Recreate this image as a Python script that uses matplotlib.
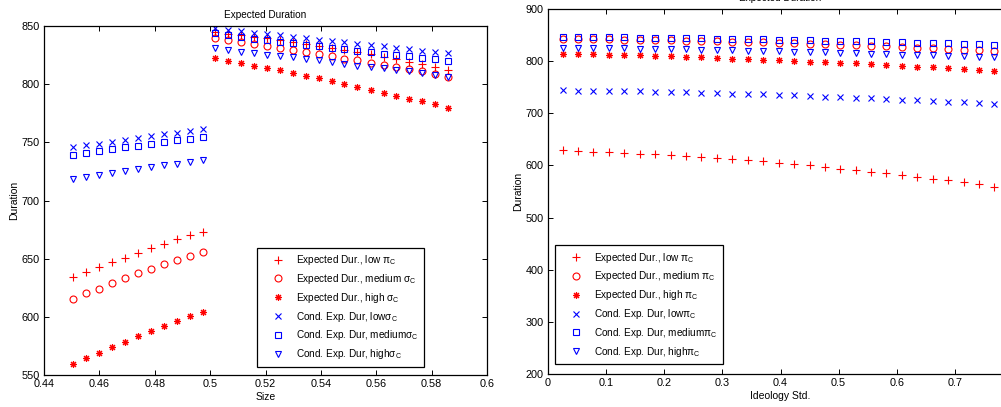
import matplotlib
matplotlib.use("Agg")
import matplotlib.pyplot as plt

plt.rcParams['font.family'] = ['Liberation Sans', 'DejaVu Sans']
plt.rcParams['mathtext.fontset'] = 'custom'
plt.rcParams['mathtext.rm'] = 'Liberation Sans'
plt.rcParams['mathtext.it'] = 'Liberation Sans:italic'
plt.rcParams['mathtext.sf'] = 'Liberation Sans'

# ---------------------------------------------------------------
# Left panel: duration against size (two regimes)
# ---------------------------------------------------------------
size_lo = [0.4506, 0.4553, 0.4599, 0.4646, 0.4693, 0.4740, 0.4786, 0.4833,
           0.4880, 0.4926, 0.4973]
size_hi = [0.5018, 0.5065, 0.5112, 0.5159, 0.5205, 0.5252, 0.5299, 0.5345,
           0.5392, 0.5439, 0.5485, 0.5532, 0.5579, 0.5626, 0.5672, 0.5719,
           0.5766, 0.5812, 0.5859]

exp_low_lo = [634.5, 638.5, 642.8, 646.9, 650.8, 655.1, 659.2, 662.9, 666.6, 670.1, 673.2]
exp_med_lo = [615.3, 620.2, 624.2, 628.8, 633.1, 637.4, 641.1, 645.4, 648.9, 652.6, 656.0]
exp_high_lo = [559.2, 564.3, 569.2, 574.1, 578.6, 583.3, 587.8, 591.9, 596.4, 600.4, 604.4]
cond_low_lo = [745.7, 747.4, 748.8, 750.5, 752.2, 753.7, 755.4, 756.9, 758.3, 759.7, 761.2]
cond_med_lo = [739.1, 740.8, 742.5, 744.3, 745.7, 747.1, 748.8, 750.3, 751.7, 753.1, 754.6]
cond_high_lo = [718.7, 720.5, 721.9, 723.6, 725.4, 727.1, 728.5, 730.2, 731.6, 733.1, 734.8]

exp_low_hi = [844.5, 843.3, 842.0, 840.7, 839.3, 837.9, 836.4, 834.8, 833.1, 831.4,
              829.6, 827.7, 825.7, 823.6, 821.4, 819.2, 817.0, 814.7, 812.4]
exp_med_hi = [840.0, 838.0, 836.5, 834.5, 833.0, 831.5, 829.5, 827.5, 826.0, 824.0,
              822.0, 820.5, 818.5, 816.5, 815.0, 813.0, 811.0, 809.0, 806.5]
exp_high_hi = [822.2, 820.0, 818.0, 816.0, 814.0, 811.8, 809.5, 807.2, 805.0, 802.7,
               800.4, 797.8, 795.2, 792.6, 790.0, 787.5, 785.2, 782.6, 779.7]
cond_low_hi = [848.0, 846.8, 845.6, 844.4, 843.2, 842.0, 840.8, 839.6, 838.4, 837.2,
               836.0, 834.8, 833.6, 832.4, 831.2, 830.0, 828.8, 827.6, 826.4]
cond_med_hi = [843.7, 842.0, 840.5, 839.2, 837.8, 836.5, 835.2, 833.8, 832.5, 831.2,
               830.0, 828.7, 827.5, 826.3, 825.1, 823.9, 822.7, 821.5, 820.3]
cond_high_hi = [831.0, 829.5, 828.0, 826.5, 825.5, 824.5, 823.0, 821.5, 820.5, 819.0,
                817.5, 816.0, 815.0, 813.5, 812.5, 811.0, 809.5, 808.0, 806.5]

# ---------------------------------------------------------------
# Right panel: duration against ideology std.
# ---------------------------------------------------------------
ideo = [0.025, 0.052, 0.078, 0.105, 0.131, 0.158, 0.184, 0.211, 0.238, 0.264,
        0.291, 0.317, 0.344, 0.370, 0.397, 0.423, 0.450, 0.476, 0.503, 0.529,
        0.556, 0.582, 0.609, 0.635, 0.662, 0.688, 0.715, 0.741, 0.768]

r_exp_low = [629.1, 627.8, 626.5, 625.9, 624.6, 622.7, 621.4, 620.2, 618.2, 616.9,
             614.4, 611.8, 609.9, 607.9, 604.7, 602.8, 600.2, 596.9, 593.1, 590.5,
             587.9, 585.3, 581.5, 577.7, 574.4, 571.2, 567.4, 563.6, 559.1]
r_exp_med = [842.0, 842.0, 841.8, 841.5, 841.2, 840.8, 840.3, 839.8, 839.2, 838.6,
             838.0, 837.3, 836.6, 835.9, 835.1, 834.3, 833.4, 832.5, 831.5, 830.5,
             829.4, 828.3, 827.1, 825.9, 824.7, 823.4, 822.1, 820.8, 819.5]
r_exp_high = [813.1, 813.1, 813.1, 812.5, 811.8, 811.2, 809.9, 809.3, 808.0, 807.4,
              806.1, 804.8, 804.2, 802.9, 801.6, 800.3, 799.0, 797.8, 797.1, 795.8,
              793.9, 792.6, 791.3, 789.4, 788.1, 786.2, 784.9, 783.0, 781.1]
r_cond_low = [744.1, 743.5, 743.5, 742.8, 742.8, 742.2, 741.5, 741.5, 740.3, 739.6,
              739.0, 737.7, 737.1, 736.4, 735.8, 734.5, 733.2, 731.9, 731.3, 730.0,
              728.7, 727.4, 726.2, 724.9, 723.6, 722.3, 721.0, 719.7, 718.5]
r_cond_med = [846.5, 846.3, 846.0, 845.8, 845.5, 845.2, 844.8, 844.4, 844.0, 843.6,
              843.2, 842.7, 842.2, 841.7, 841.2, 840.7, 840.1, 839.5, 838.9, 838.3,
              837.7, 837.0, 836.3, 835.6, 834.9, 834.2, 833.4, 832.6, 831.8]
r_cond_high = [825.5, 825.3, 825.0, 824.7, 824.3, 823.9, 823.5, 823.0, 822.5, 822.0,
               821.4, 820.8, 820.2, 819.6, 818.9, 818.2, 817.5, 816.8, 816.0, 815.2,
               814.4, 813.6, 812.7, 811.8, 810.9, 810.0, 809.0, 808.0, 807.0]

left_labels = [r'Expected Dur., low $\mathrm{\pi_C}$',
               r'Expected Dur., medium $\mathrm{\sigma_C}$',
               r'Expected Dur., high $\mathrm{\sigma_C}$',
               r'Cond. Exp. Dur, low$\mathrm{\sigma_C}$',
               r'Cond. Exp. Dur, medium$\mathrm{\sigma_C}$',
               r'Cond. Exp. Dur, high$\mathrm{\sigma_C}$']
right_labels = [r'Expected Dur., low $\mathrm{\pi_C}$',
                r'Expected Dur., medium $\mathrm{\pi_C}$',
                r'Expected Dur., high $\mathrm{\pi_C}$',
                r'Cond. Exp. Dur, low$\mathrm{\pi_C}$',
                r'Cond. Exp. Dur, medium$\mathrm{\pi_C}$',
                r'Cond. Exp. Dur, high$\mathrm{\pi_C}$']

# marker, colour, size for the six series (MATLAB-like)
styles = [('+', 'red', 5.5), ('o', 'red', 5), ((8, 2, 0), 'red', 5),
          ('x', 'blue', 3.8), ('s', 'blue', 4.3), ('v', 'blue', 5)]


def style_axes(ax):
    ax.tick_params(direction='in', top=True, right=True, length=3.5,
                   width=0.7, labelsize=7.8, pad=3, colors='black')
    for sp in ax.spines.values():
        sp.set_linewidth(0.9)


def add_series(ax, x, ys, labels):
    for y, (mk, col, ms), lab in zip(ys, styles, labels):
        ax.plot(x, y, linestyle='none', marker=mk, markersize=ms,
                markerfacecolor='none', markeredgecolor=col,
                markeredgewidth=0.8, label=lab)


def add_legend(ax, anchor):
    leg = ax.legend(loc='lower left', bbox_to_anchor=anchor,
                    borderaxespad=0, fontsize=7.2, frameon=True, fancybox=False,
                    edgecolor='black', framealpha=1, handlelength=3.0,
                    handletextpad=0.35, labelspacing=0.48, borderpad=0.55)
    leg.get_frame().set_linewidth(0.9)
    return leg


fig = plt.figure(figsize=(10.01, 4.07), dpi=100)

# ---- left ----
ax1 = fig.add_axes([0.044, 0.0786, 0.4426, 0.8575])
series_lo = [exp_low_lo, exp_med_lo, exp_high_lo, cond_low_lo, cond_med_lo, cond_high_lo]
series_hi = [exp_low_hi, exp_med_hi, exp_high_hi, cond_low_hi, cond_med_hi, cond_high_hi]
add_series(ax1, size_lo, series_lo, left_labels)
for y, (mk, col, ms) in zip(series_hi, styles):
    ax1.plot(size_hi, y, linestyle='none', marker=mk, markersize=ms,
             markerfacecolor='none', markeredgecolor=col, markeredgewidth=0.8)
ax1.set_xlim(0.44, 0.6)
ax1.set_ylim(550, 850)
ax1.set_xticks([0.44, 0.46, 0.48, 0.5, 0.52, 0.54, 0.56, 0.58, 0.6])
ax1.set_xticklabels(['0.44', '0.46', '0.48', '0.5', '0.52', '0.54', '0.56', '0.58', '0.6'])
ax1.set_yticks([550, 600, 650, 700, 750, 800, 850])
style_axes(ax1)
ax1.set_title('Expected Duration', fontsize=7.2, pad=6)
ax1.set_xlabel('Size', fontsize=7.5, labelpad=2)
ax1.set_ylabel('Duration', fontsize=7.5, labelpad=2)
add_legend(ax1, (0.481, 0.024))

# ---- right (runs past the image edge, as in the reference crop) ----
ax2 = fig.add_axes([0.5475, 0.0811, 0.4645, 0.8968])
add_series(ax2, ideo, [r_exp_low, r_exp_med, r_exp_high,
                       r_cond_low, r_cond_med, r_cond_high], right_labels)
ax2.set_xlim(0, 0.8)
ax2.set_ylim(200, 900)
ax2.set_xticks([0, 0.1, 0.2, 0.3, 0.4, 0.5, 0.6, 0.7, 0.8])
# the 0.8 label falls outside the cropped picture
ax2.set_xticklabels(['0', '0.1', '0.2', '0.3', '0.4', '0.5', '0.6', '0.7', ''])
ax2.set_yticks([200, 300, 400, 500, 600, 700, 800, 900])
style_axes(ax2)
ax2.set_title('Expected Duration', fontsize=7.2, pad=6)
ax2.set_xlabel('Ideology Std.', fontsize=7.5, labelpad=2)
ax2.set_ylabel('Duration', fontsize=7.5, labelpad=2)
add_legend(ax2, (0.015, 0.027))

fig.savefig('out.png', dpi=100)
